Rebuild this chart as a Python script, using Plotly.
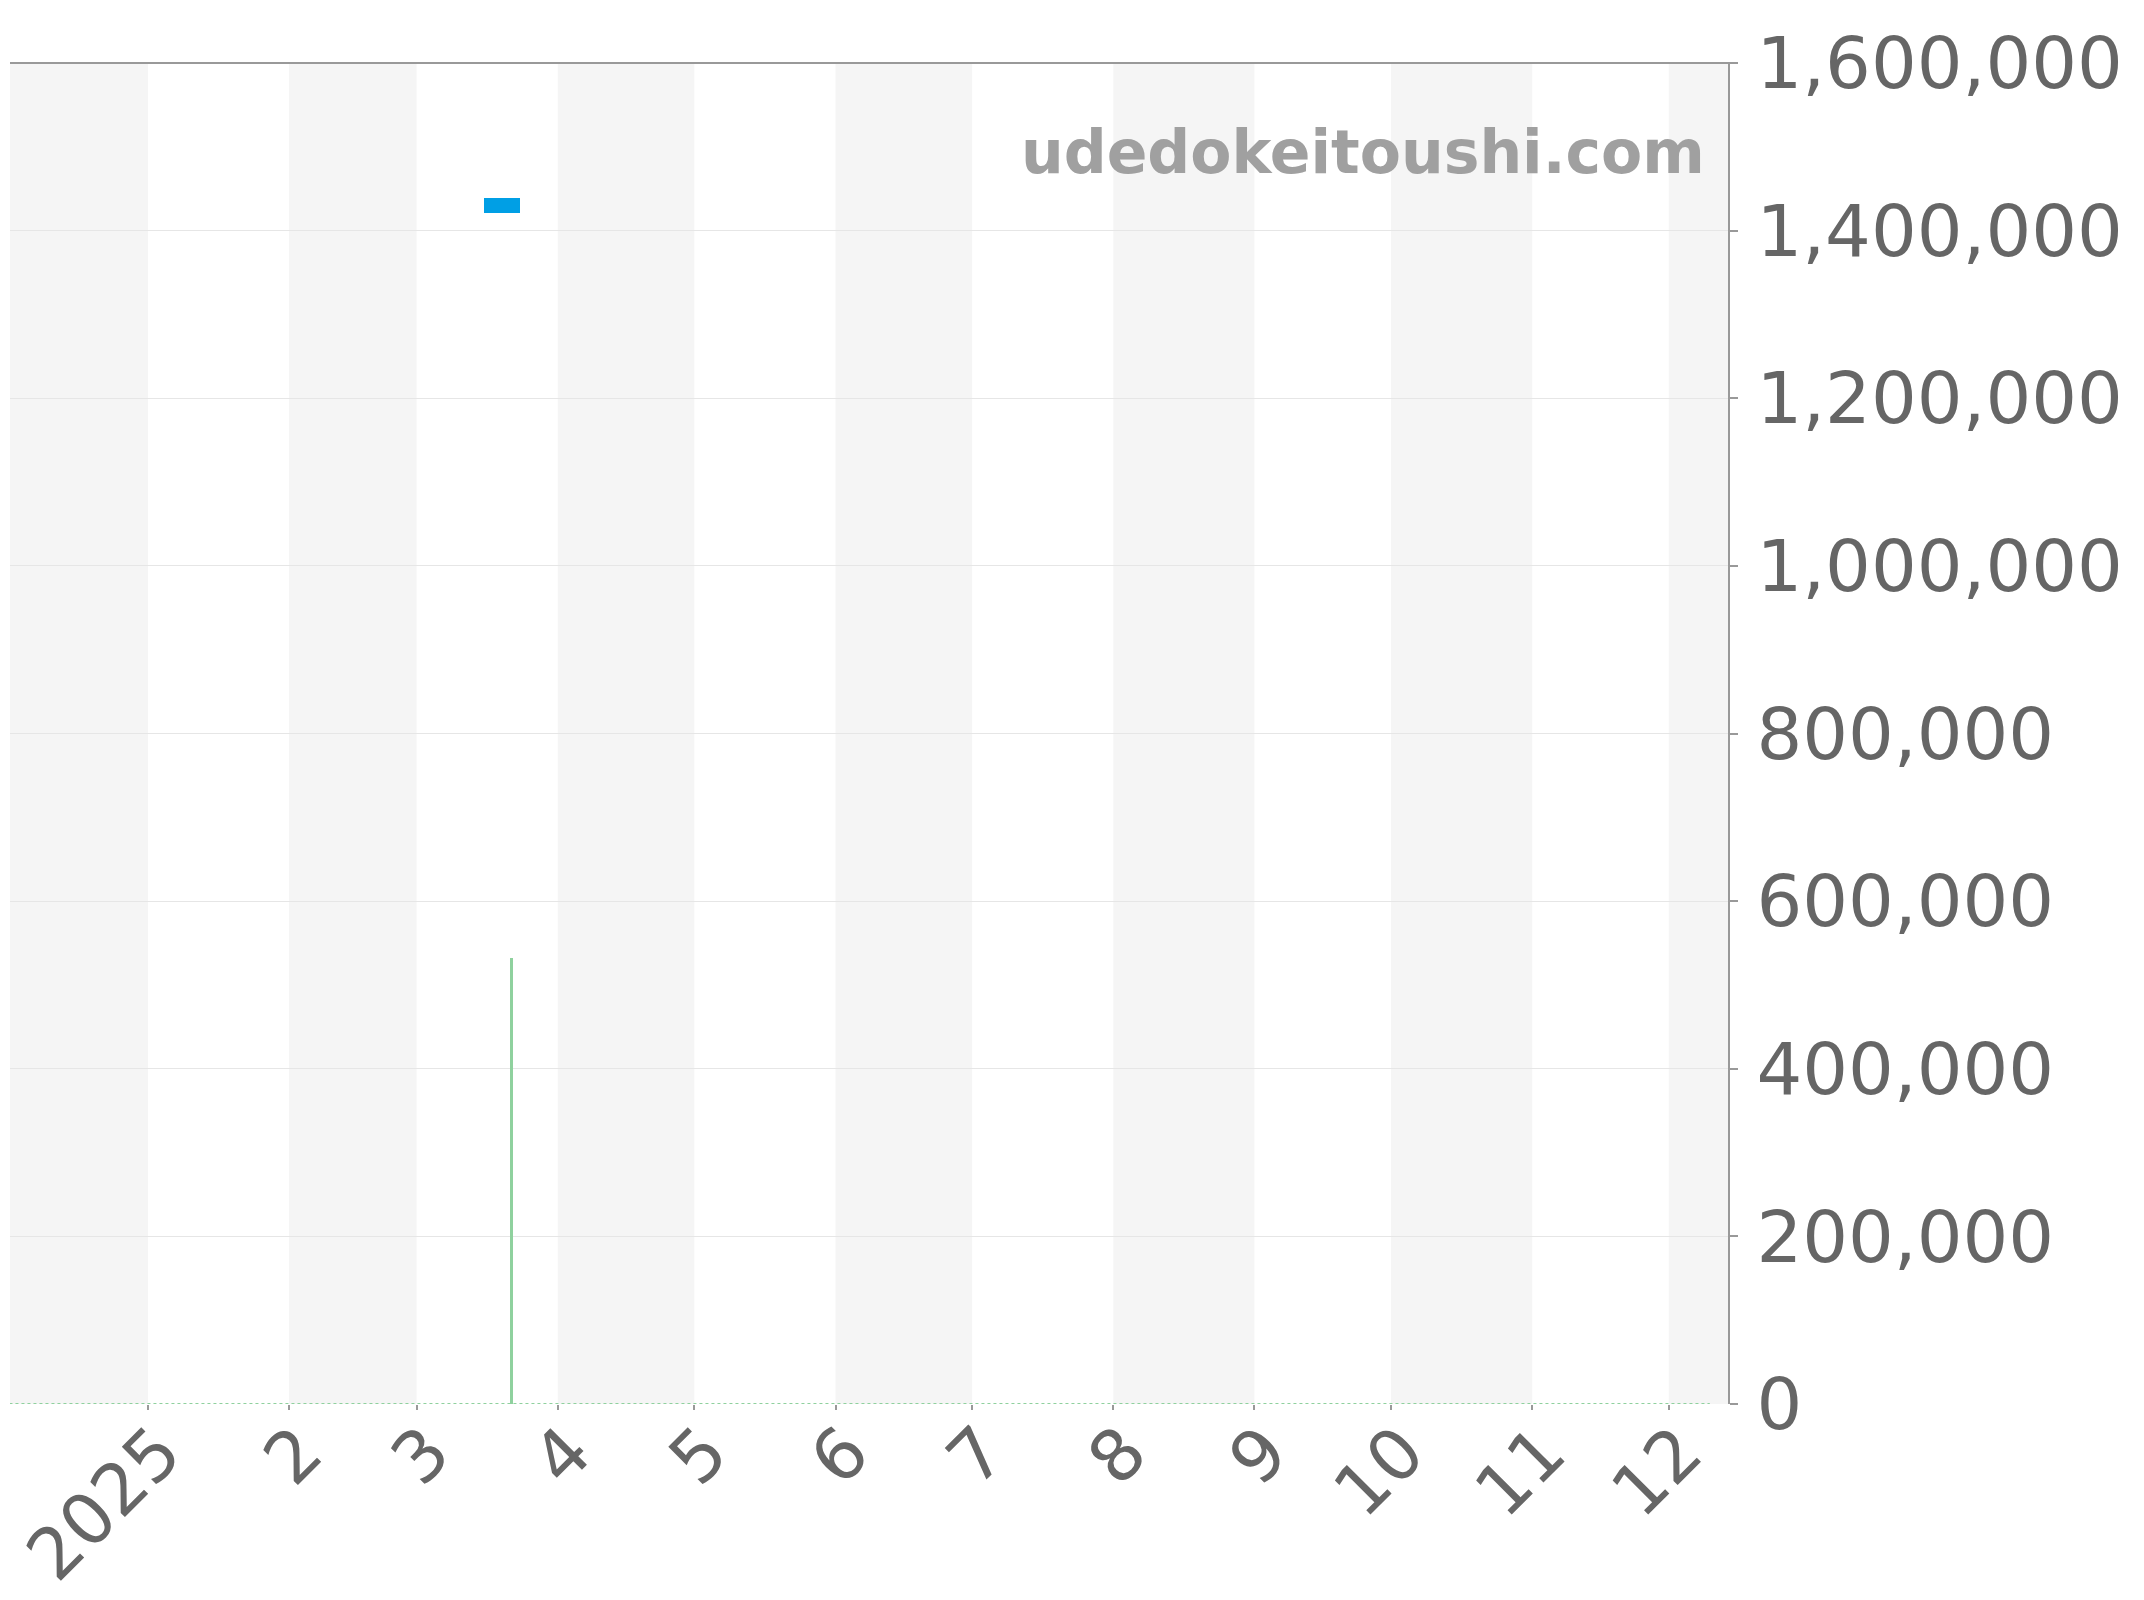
import plotly.graph_objects as go

# ---- data ----
month_starts = ["2024-12-01", "2025-01-01", "2025-02-01", "2025-03-01", "2025-04-01",
                "2025-05-01", "2025-06-01", "2025-07-01", "2025-08-01", "2025-09-01",
                "2025-10-01", "2025-11-01", "2025-12-01", "2026-01-01"]
tick_dates = month_starts[1:13]
tick_labels = ["2025", "2", "3", "4", "5", "6", "7", "8", "9", "10", "11", "12"]

price_dates = ["2025-03-19 18:00"]
price_open = [1421000]
price_close = [1439000]

volume_dates = ["2025-03-21 18:00"]
volume_values = [532000]

baseline_dates = ["2024-11-25", "2025-12-10"]
baseline_values = [0, 0]

y_ticks = [0, 200000, 400000, 600000, 800000, 1000000, 1200000, 1400000, 1600000]

x_range = ["2024-12-01 17:00", "2025-12-14 00:00"]
y_range = [0, 1600000]

# ---- figure ----
fig = go.Figure()

DAY_MS = 86400000

# volume baseline (dotted)
fig.add_trace(go.Scatter(
    x=baseline_dates, y=baseline_values, mode="lines",
    line=dict(color="#8fd19e", width=2, dash="dot"),
    hoverinfo="skip", showlegend=False, cliponaxis=False,
))

# volume bars
fig.add_trace(go.Bar(
    x=volume_dates, y=volume_values,
    width=[0.65 * DAY_MS] * len(volume_dates),
    marker=dict(color="#8fd19e", line=dict(width=0)),
    showlegend=False,
))

# price candle bodies
lows = [min(o, c) for o, c in zip(price_open, price_close)]
spans = [abs(c - o) for o, c in zip(price_open, price_close)]
fig.add_trace(go.Bar(
    x=price_dates, y=spans, base=lows,
    width=[8 * DAY_MS] * len(price_dates),
    marker=dict(color="#009fe5", line=dict(width=0)),
    showlegend=False,
))

# alternating month bands
shapes = []
for i in range(len(month_starts) - 1):
    if i % 2 == 0:
        shapes.append(dict(
            type="rect", xref="x", yref="paper",
            x0=month_starts[i], x1=month_starts[i + 1], y0=0, y1=1,
            fillcolor="#f5f5f5", line=dict(width=0), layer="below",
        ))
# top border
shapes.append(dict(type="line", xref="paper", yref="paper", x0=0, x1=1.004, y0=1, y1=1,
                   line=dict(color="#999999", width=2)))
fig.update_layout(shapes=shapes)

fig.add_annotation(
    text="<b>udedokeitoushi.com</b>", xref="paper", yref="paper",
    x=0.988, y=0.9335, xanchor="right", yanchor="middle", showarrow=False,
    font=dict(family="DejaVu Sans", size=60, color="#a0a0a0"),
)

fig.update_layout(
    width=2144, height=1600,
    margin=dict(l=2, r=424, t=55, b=204, autoexpand=False),
    paper_bgcolor="white", plot_bgcolor="white",
    font=dict(family="DejaVu Sans", color="#666666", size=72),
    bargap=0, barmode="overlay",
    xaxis=dict(
        type="date", range=x_range, automargin=False,
        tickvals=tick_dates, ticktext=tick_labels, tickangle=-45,
        ticks="outside", ticklen=5, tickcolor="#999999", tickwidth=2,
        ticklabeloverflow="allow", ticklabelshift=12, ticklabelstandoff=-28,
        showgrid=False, showline=False, zeroline=False,
        tickfont=dict(size=71, color="#666666"),
    ),
    yaxis=dict(
        side="right", range=y_range, tickvals=y_ticks, tickformat=",",
        automargin=False,
        ticks="outside", ticklen=8, tickcolor="#999999", tickwidth=2,
        ticklabelstandoff=4,
        showline=True, linecolor="#999999", linewidth=2,
        showgrid=True, gridcolor="#e6e6e6", gridwidth=1,
        zeroline=False, tickfont=dict(size=72, color="#666666"),
    ),
)

fig.write_html("out.html")
